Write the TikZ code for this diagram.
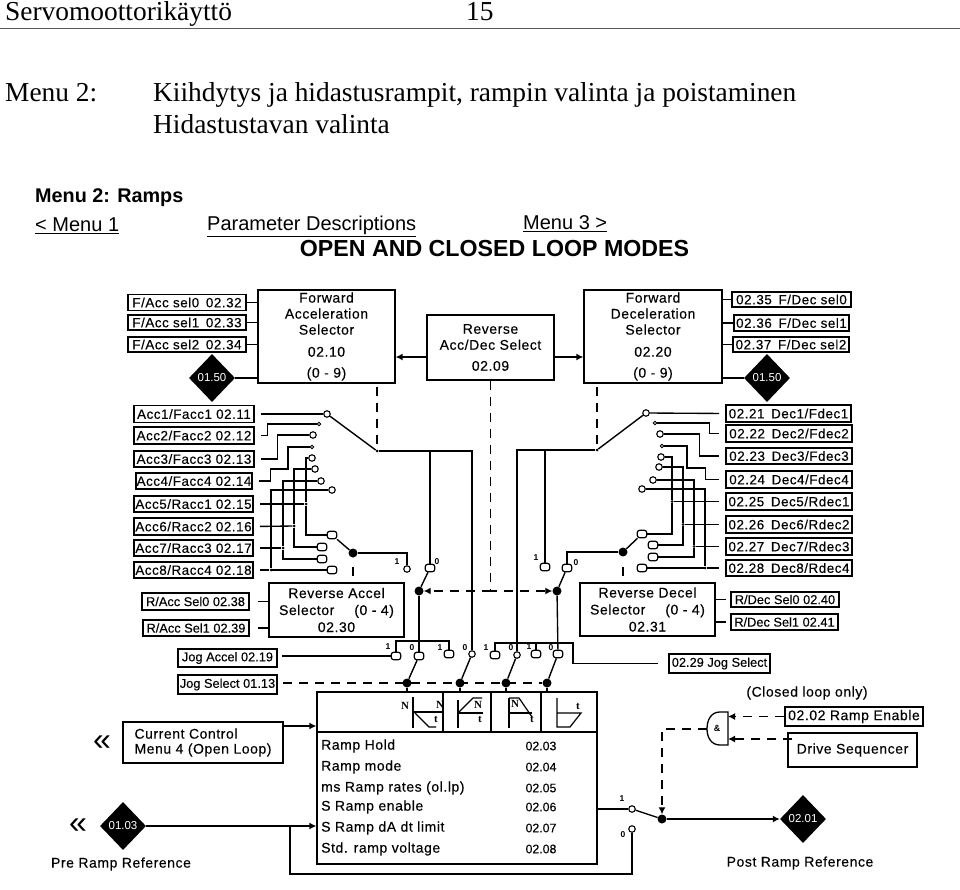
\documentclass[tikz,border=0pt]{standalone}
\usepackage{fontspec}
\setmainfont{Liberation Serif}
\setsansfont{Liberation Sans}
\newfontfamily\spaced{Liberation Sans}[LetterSpace=4,FakeBold=0.25]
\newfontfamily\tight{Liberation Sans}[FakeBold=0.25]
\usetikzlibrary{arrows.meta,shapes.geometric}

\begin{document}
\begin{tikzpicture}[x=1pt,y=-1pt,font=\sffamily,
headtext/.style={font=\rmfamily\fontsize{27.4}{27.4}\selectfont,anchor=base west,inner sep=0},
linktext/.style={font=\sffamily\fontsize{20}{20}\selectfont,anchor=west,inner sep=0},
tag/.style={draw,line width=1.6pt,inner sep=0,font=\spaced\fontsize{13.4}{13.4}\selectfont},
smalltag/.style={tag,font=\tight\fontsize{12.8}{12.8}\selectfont},
block/.style={draw,line width=1.3pt,inner sep=0,align=center,font=\spaced\fontsize{14}{16}\selectfont},
rowtext/.style={font=\spaced\fontsize{14}{14}\selectfont,inner sep=0},
plaintext/.style={font=\spaced\fontsize{14}{14}\selectfont,inner sep=0},
bitlabel/.style={font=\sffamily\bfseries\fontsize{8.5}{8.5}\selectfont,inner sep=0},
icontext/.style={font=\rmfamily\bfseries\fontsize{11}{11}\selectfont,inner sep=0},
bigdiamond/.style={diamond,aspect=1,fill=black,text=white,inner sep=0,minimum width=46pt,minimum height=48pt,font=\sffamily\fontsize{11.5}{11.5}\selectfont},
contact/.style={circle,draw,fill=white,line width=1.1pt,inner sep=0,minimum size=6.5pt},
contactbig/.style={draw,fill=white,line width=1.2pt,rounded corners=2.5pt,inner sep=0,minimum width=9.5pt,minimum height=7.5pt},
bullet/.style={circle,fill=black,inner sep=0,minimum size=9pt},
junct/.style={circle,fill=black,inner sep=0,minimum size=3pt},
wire/.style={line width=1.35pt},
arm/.style={line width=1.4pt},
sense/.style={line width=1.3pt,dash pattern=on 9pt off 7pt},
sig/.style={-{Latex[length=7pt,width=7pt]}}]
\useasboundingbox (0,0) rectangle (960,890);
\node[headtext] (hdtitle) at (5,20.5) {Servomoottorikäyttö}; \node[headtext] (hdpage) at (466,20.5) {15};
\draw[line width=1.3pt,black!65] (0,28.5) -- (960,28.5);
\node[headtext] (hdmenu) at (5,102) {Menu 2:}; \node[headtext] (hdline) at (153,102) {Kiihdytys ja hidastusrampit, rampin valinta ja poistaminen}; \node[headtext] (hdsub) at (153,134) {Hidastustavan valinta};
\node[linktext,font=\sffamily\bfseries\fontsize{19.8}{19.8}\selectfont] (menutitle) at (35,198) {Menu 2: Ramps};
\node[linktext] (linkback) at (35,226) {\underline{< Menu 1}}; \node[linktext] (linkdesc) at (207,226) {\underline{Parameter Descriptions}}; \node[linktext] (linknext) at (523,224) {\underline{Menu 3 >}};
\node[font=\sffamily\bfseries\fontsize{23.2}{23.2}\selectfont,inner sep=0] (modes) at (494.5,249) {OPEN AND CLOSED LOOP MODES};
\foreach \n/\x/\y/\w/\h/\t in {fa0/187/302.5/118/16/{F/Acc sel0\enspace 02.32},fa1/187/322.5/118/15/{F/Acc sel1\enspace 02.33},fa2/187/344.5/118/15/{F/Acc sel2\enspace 02.34},
fd0/791.5/299.5/119/15/{02.35\enspace F/Dec sel0},fd1/791.5/323/115/16/{02.36\enspace F/Dec sel1},fd2/791/344.5/116/15/{02.37\enspace F/Dec sel2},
acc1/194/414/120/17/{Acc1/Facc1 02.11},acc2/194/435.5/120/17/{Acc2/Facc2 02.12},acc3/194/459/120/16/{Acc3/Facc3 02.13},acc4/194/481/116/16/{Acc4/Facc4 02.14},acc5/193.5/504/119/16/{Acc5/Racc1 02.15},acc6/193.5/526.5/119/17/{Acc6/Racc2 02.16},acc7/193.5/548/119/16/{Acc7/Racc3 02.17},acc8/193.5/570/119/16/{Acc8/Racc4 02.18},
dec1/788.5/413.5/125/17/{02.21\enspace Dec1/Fdec1},dec2/789/433.5/126/17/{02.22\enspace Dec2/Fdec2},dec3/789/456/126/16/{02.23\enspace Dec3/Fdec3},dec4/789/479.5/126/17/{02.24\enspace Dec4/Fdec4},dec5/789/501.5/126/17/{02.25\enspace Dec5/Rdec1},dec6/789/524.5/126/17/{02.26\enspace Dec6/Rdec2},dec7/789/546.5/126/17/{02.27\enspace Dec7/Rdec3},dec8/789/568/126/16/{02.28\enspace Dec8/Rdec4}}
{\node[tag,minimum width=\w pt,minimum height=\h pt] (\n) at (\x,\y) {\t};}
\foreach \n/\x/\y/\w/\h/\t in {ras0/195.5/601.5/107/17/{R/Acc Sel0 02.38},ras1/196/628/106/16/{R/Acc Sel1 02.39},rds0/785/599.5/108/15/{R/Dec Sel0 02.40},rds1/784.5/622/107/16/{R/Dec Sel1 02.41},
jogacc/227.5/658/99/18/{Jog Accel 02.19},jogsel/227.5/684.5/99/19/{Jog Select 01.13},jogdec/719.5/663.5/101/19/{02.29 Jog Select}}
{\node[smalltag,minimum width=\w pt,minimum height=\h pt] (\n) at (\x,\y) {\t};}
\node[tag,line width=1.3pt,font=\spaced\fontsize{14}{14}\selectfont,minimum width=138pt,minimum height=19pt] (rampen) at (854,716.5) {02.02 Ramp Enable};
\node[block,minimum width=137pt,minimum height=93pt] (fas) at (326.5,336.5) {Forward\\Acceleration\\Selector\\[6pt]02.10\\[5pt](0 - 9)};
\node[block,minimum width=138pt,minimum height=93pt] (fds) at (653,336.5) {Forward\\Deceleration\\Selector\\[6pt]02.20\\[5pt](0 - 9)};
\node[block,minimum width=127pt,minimum height=65pt] (rads) at (490.5,347.5) {Reverse\\Acc/Dec Select\\[5pt]02.09};
\node[block,minimum width=135pt,minimum height=54pt,font=\spaced\fontsize{14}{17}\selectfont] (rab) at (336.5,610) {Reverse Accel\\Selector\hspace{20pt}(0 - 4)\\02.30};
\node[block,minimum width=135pt,minimum height=53pt,font=\spaced\fontsize{14}{17}\selectfont] (rdb) at (647.5,609.5) {Reverse Decel\\Selector\hspace{20pt}(0 - 4)\\02.31};
\node[block,minimum width=160pt,minimum height=41pt,align=left,font=\spaced\fontsize{14}{15}\selectfont] (cur) at (203,742.5) {Current Control\\Menu 4 (Open Loop)};
\node[block,minimum width=129pt,minimum height=34pt] (drvseq) at (852.5,750) {Drive Sequencer};
\node[draw,line width=1.3pt,minimum width=280pt,minimum height=172pt,inner sep=0] (ramp) at (457,778) {};
\draw[line width=1.5pt] (317,732) -- (597,732); \foreach \x in {443,491,541} {\draw[line width=1.3pt] (\x,692) -- (\x,732);}
\foreach \n/\y/\t/\v in {rhold/746/Ramp Hold/02.03,rmode/767/Ramp mode/02.04,rrate/788/ms Ramp rates (ol.lp)/02.05,rsen/807/S Ramp enable/02.06,rsdt/828/S Ramp dA dt limit/02.07,rstd/849/Std. ramp voltage/02.08}
{\node[rowtext,anchor=west] (\n) at (321,\y) {\t}; \node[rowtext,font=\tight\fontsize{12.3}{12.3}\selectfont] (\n val) at (541,\y) {\v};}
\draw[line width=1.2pt] (413,697) -- (413,728); \draw[line width=1.2pt] (413,712) -- (442,712); \draw[line width=1.2pt] (415,713) -- (429,727) -- (436,727);
\draw[line width=1.2pt] (458,700) -- (458,728); \draw[line width=1.2pt] (458,713) -- (483,713); \draw[line width=1.2pt] (458,713) -- (473,698) -- (482,698);
\draw[line width=1.2pt] (509,698) -- (509,728); \draw[line width=1.2pt] (509,713) -- (532,713); \draw[line width=1.2pt] (509,698) -- (519,698) -- (532,717);
\draw[line width=1.2pt] (557,698) -- (557,727) -- (570,727) -- (581,713) -- (557,713);
\foreach \n/\x/\y/\t in {icn1/405/706/N,icn2/440/705/N,ict1/436/719/t,icn3/478/705/N,ict2/480/719/t,icn4/515/704/N,ict3/532/719/t,ict4/578/706/t}
{\node[icontext] (\n) at (\x,\y) {\t};}
\node[bigdiamond] (dfa) at (212,378) {01.50}; \node[bigdiamond] (dfd) at (767,378) {01.50}; \node[bigdiamond] (dpre) at (123,826) {01.03}; \node[bigdiamond] (dpost) at (803,819) {02.01};
\node[plaintext] (lpre) at (121,864) {Pre Ramp Reference}; \node[plaintext] (lpost) at (800,863) {Post Ramp Reference}; \node[plaintext] (lclosed) at (807,693) {(Closed loop only)};
\node[font=\sffamily\fontsize{32}{32}\selectfont,inner sep=0] (back1) at (102,743) {«}; \node[font=\sffamily\fontsize{32}{32}\selectfont,inner sep=0] (back2) at (78,826) {«};
\foreach \n/\x/\y in {ac1/327/414,ac3/313/435,ac5/312/458,ac6/315/469,ac7/321/481,ac8/332/490,rc1/646/413,rc3/660/434,rc5/661/457,rc6/659/467,rc7/653/480,rc8/642/489,j4/472/654,k2/517/655,o1/632/809,o0/632/829,l1/407/569}
{\node[contact] (\n) at (\x,\y) {};}
\foreach \n/\x/\y in {ac2/319/424,ac4/312/447,rc2/655/423,rc4/662/446}
{\node[contact,minimum size=3.5pt,line width=0.8pt] (\n) at (\x,\y) {};}
\foreach \n/\x/\y in {lc1/332/535,lc2/322/547,lc3/322/559,lc4/332/570,rl1/642/534,rl2/653/545,rl3/653/557,rl4/642/568,l0/430/568,r1/545/567,r0/567/568,j1/396/656,j2/419/656,j3/449/654,k1/495/655,k3/536/654,k4/558/654}
{\node[contactbig] (\n) at (\x,\y) {};}
\foreach \n/\x/\y in {lca/353/553,rcb/623/552,bl/419/591,br/557/591,rb1/407/683,rb2/460/683,rb3/506/683,rb4/547/683,bo/662/819}
{\node[bullet] (\n) at (\x,\y) {};}
\foreach \n/\x/\y in {aca/377/451,rca/597/450,jn5/306/504,jn6/294/526,jn7/283/548,jn8/271/570,jr5/672/501.5,jr6/683/524.5,jr7/694/546.5,jr8/705/568}
{\node[junct] (\n) at (\x,\y) {};}
\foreach \n/\x/\y/\t in {bl1/397/562/1,bl2/437/562/0,bl3/536/558/1,bl4/576/563/0,bl5/388/647/1,bl6/412/648/0,bl7/440/648/1,bl8/465/648/0,bl9/486/648/1,bl10/511/648/0,bl11/529/647/1,bl12/551/648/0,bl13/622/799/1,bl14/623/835/0}
{\node[bitlabel] (\n) at (\x,\y) {\t};}
\foreach \a in {fa0,fa1,fa2} {\draw[wire] (\a.east) -- (\a.east -| fas.west);}
\foreach \a in {fd0,fd1,fd2} {\draw[wire] (\a.west) -- (\a.west -| fds.east);}
\draw[wire] (dfa) -- (dfa -| fas.west); \draw[wire] (dfd) -- (dfd -| fds.east);
\draw[wire,sig] (rads.west |- 0,357) -- (fas.east |- 0,357); \draw[wire,sig] (rads.east |- 0,357) -- (fds.west |- 0,357);
\draw[wire,shorten <=6pt] (acc1.east) -- (ac1);
\draw[wire,shorten <=6pt] (acc2.east) -- ++(13,0) |- (ac2);
\draw[wire,shorten <=6pt] (acc3.east) -- ++(23,0) |- (ac3);
\draw[wire,shorten <=6pt] (acc4.east) -- ++(18,0) |- (288,469) |- (ac4);
\foreach \i/\a/\b in {5/ac5/lc1,6/ac6/lc2,7/ac7/lc3,8/ac8/lc4} {\draw[wire] (\a) -| (jn\i) |- (\b); \draw[wire,shorten <=6pt] (acc\i.east) -- (jn\i);}
\draw[wire,shorten <=6pt] (dec1.west) -- (rc1);
\draw[wire,shorten <=6pt] (dec2.west) -- ++(-16,0) |- (rc2);
\draw[wire,shorten <=6pt] (dec3.west) -- ++(-26,0) |- (rc3);
\draw[wire,shorten <=6pt] (dec4.west) -- ++(-20,0) |- (687,468) |- (rc4);
\foreach \i/\a/\b in {5/rc5/rl1,6/rc6/rl2,7/rc7/rl3,8/rc8/rl4} {\draw[wire] (\a) -| (jr\i) |- (\b); \draw[wire,shorten <=6pt] (dec\i.west) -- (jr\i);}
\draw[arm] (ac1) -- (aca); \draw[arm] (lc1) -- (lca); \draw[arm] (rc1) -- (rca); \draw[arm] (rl1) -- (rcb);
\draw[wire] (aca) -| (j4); \draw[wire] (aca) -| (l0); \draw[wire] (rca) -| (k2); \draw[wire] (rca) -| (r1);
\draw[wire] (lca) -| (l1); \draw[wire] (rcb) -| (r0);
\draw[arm] (l0) -- (bl); \draw[arm] (r0) -- (br); \draw[wire] (bl) -- (j2); \draw[wire] (br) -- (k4);
\draw[sense,shorten <=3pt] (aca |- fas.south) -- (aca); \draw[sense,shorten <=3pt] (rca |- fds.south) -- (rca);
\coordinate (lcd) at (353,567); \coordinate (rcd) at (623,567);
\draw[wire,shorten >=6pt] (lcd) -- (lcd |- rab.north); \draw[wire,shorten >=6pt] (rcd) -- (rcd |- rdb.north);
\draw[sense,sig] (rads.south) |- (br); \draw[sense,sig] (rads.south |- bl) -- (bl);
\draw[wire] (ras0.east) ++(8,0) -- (ras0.east -| rab.west); \draw[wire] (ras1.east) ++(8,0) -- (ras1.east -| rab.west);
\draw[wire] (rds0.west) ++(-4,0) -- (rds0.west -| rdb.east); \draw[wire] (rds1.west) ++(-4,0) -- (rds1.west -| rdb.east);
\coordinate (brl) at (422,641); \coordinate (brr) at (573,643);
\draw[wire] (j1) |- (brl) -| (j3); \draw[wire] (k1) |- (brr) |- ([xshift=-10pt]jogdec.west); \draw[wire] (k3) -- (k3 |- brr);
\draw[wire,shorten <=4pt] (jogacc.east |- j1) -- (j1);
\foreach \a/\b in {j2/rb1,j4/rb2,k2/rb3,k4/rb4} {\draw[arm] (\a) -- (\b); \draw[wire] (\b) -- (\b |- ramp.north);}
\draw[sense,shorten <=5pt] (jogsel.east |- rb1) -- (rb4);
\draw[wire,sig] (cur.east |- 0,726) -- (ramp.west |- 0,726);
\draw[wire,sig] (dpre) -- (dpre -| ramp.west);
\coordinate (fbk) at (290,874); \draw[wire] (fbk |- dpre) -- (fbk) -| (o0);
\draw[wire] (ramp.east |- o1) -- (o1); \draw[arm] (o1) -- (bo); \draw[wire,sig] (bo) -- (dpost);
\draw[line width=1.3pt] (728,712) -- (728,745) -- (720,745) .. controls (711,745) and (707,737) .. (707,729) .. controls (707,720) and (711,712) .. (720,712) -- cycle;
\node[bitlabel,font=\sffamily\bfseries\fontsize{9}{9}\selectfont] (gate) at (717,728) {\&};
\coordinate (gout) at (707,729); \coordinate (gin1) at (728,716.5); \coordinate (gin2) at (728,739);
\draw[sense,sig] (gout) -| (bo); \draw[sense,sig] (rampen.west) -- (gin1); \draw[sense,sig,shorten <=-5pt] (drvseq.west |- gin2) -- (gin2);
\end{tikzpicture}
\end{document}
